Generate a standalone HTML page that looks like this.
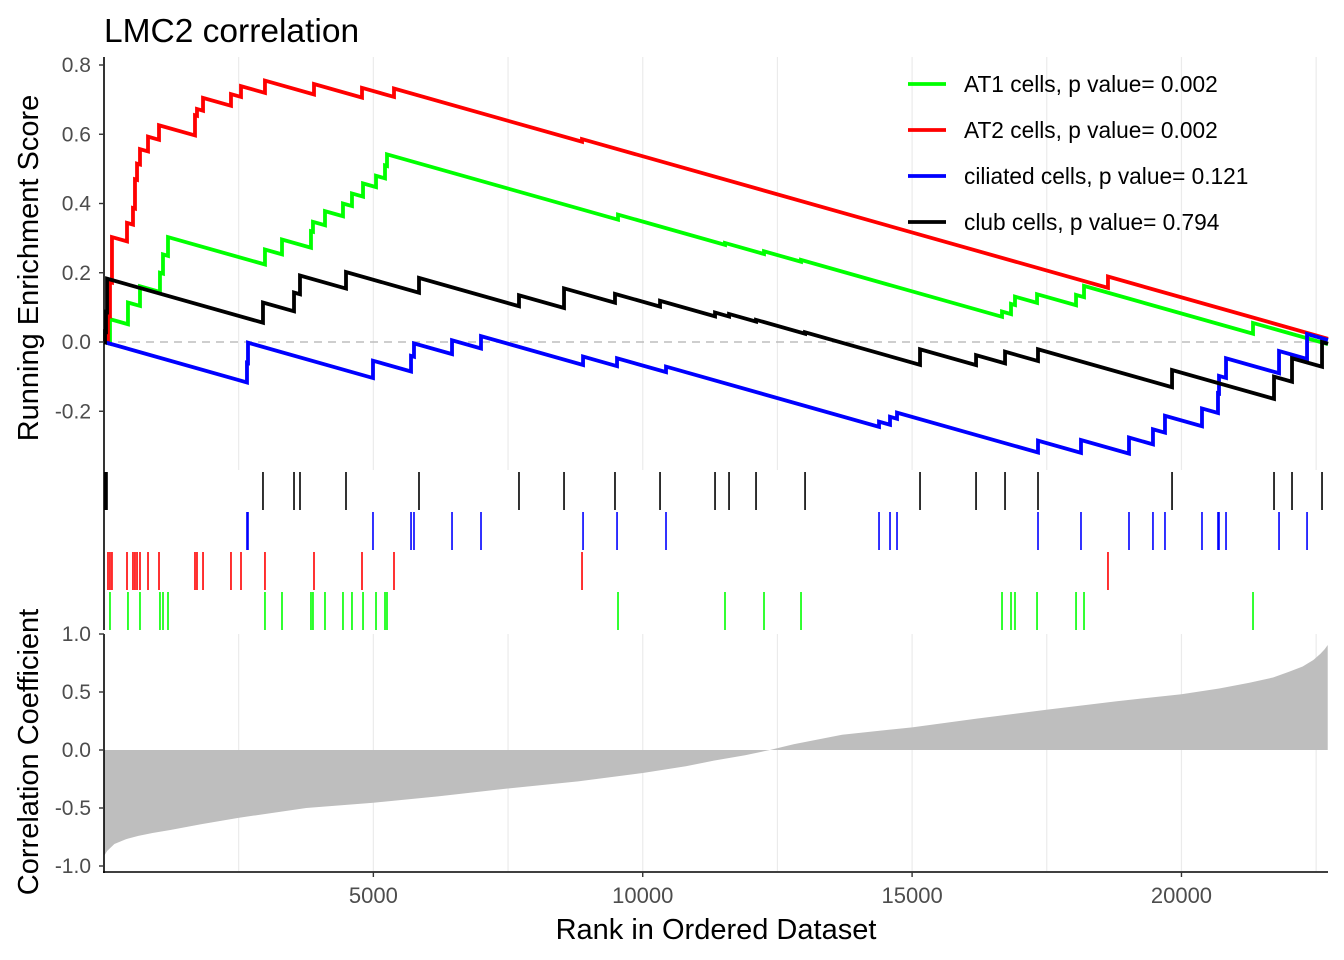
<!DOCTYPE html>
<html><head><meta charset="utf-8"><style>
html,body{margin:0;padding:0;background:#fff;}
svg{display:block;font-family:"Liberation Sans",Arial,sans-serif;}
</style></head><body>
<svg id="chart" width="1344" height="960" viewBox="0 0 1344 960" xmlns="http://www.w3.org/2000/svg">
<text x="104" y="42" font-size="33.5" fill="#000">LMC2 correlation</text>
<g id="grid"></g>
<line id="zeroline" stroke="#bdbdbd" stroke-width="1.5" stroke-dasharray="8,6"/>
<g id="curves"></g>
<g id="hits"></g>
<path id="corrArea" fill="#bebebe"/>
<g id="axes"></g>
<text transform="translate(38,268) rotate(-90)" text-anchor="middle" font-size="29" fill="#000">Running Enrichment Score</text>
<text transform="translate(38,752) rotate(-90)" text-anchor="middle" font-size="29" fill="#000">Correlation Coefficient</text>
<text x="716" y="939" text-anchor="middle" font-size="29" fill="#000">Rank in Ordered Dataset</text>
<g id="legend"></g>
</svg>
<script>
const N = 22720;
const setNames = ["AT1 cells, p value= 0.002","AT2 cells, p value= 0.002","ciliated cells, p value= 0.121","club cells, p value= 0.794"];
const setColors = ["#00ff00","#ff0000","#0000ff","#000000"];
const greenHits = [111,445,668,1039,1095,1188,2988,3304,3842,3879,4102,4436,4603,4808,5049,5216,5253,9541,11527,12251,12938,16669,16836,16910,17319,18043,18191,21328];
const greenPeaks = [0.066,0.114,0.161,0.2,0.253,0.303,0.267,0.296,0.32,0.347,0.378,0.40,0.429,0.458,0.48,0.51,0.542,0.368,0.286,0.262,0.237,0.088,0.110,0.131,0.138,0.136,0.162,0.055];
const redHits = [74,111,148,427,538,575,613,668,817,1021,1689,1726,1838,2357,2543,2988,3898,4789,5383,8873,18636];
const redPeaks = [0.076,0.173,0.303,0.344,0.387,0.47,0.515,0.557,0.593,0.626,0.655,0.673,0.705,0.716,0.739,0.755,0.745,0.734,0.732,0.586,0.189];
const blueHits = [2654,2673,4993,5699,5754,6460,6998,8892,9523,10432,14386,14590,14720,17337,18135,19026,19471,19694,20381,20678,20697,20827,21811,22331];
const bluePeaks = [-0.06,-0.002,-0.054,-0.04,-0.004,0.005,0.017,-0.042,-0.047,-0.071,-0.23,-0.216,-0.204,-0.285,-0.283,-0.276,-0.252,-0.213,-0.192,-0.148,-0.098,-0.047,-0.026,0.023];
const blackHits = [19,37,56,2951,3527,3638,4492,5847,7703,8539,9485,10321,11342,11602,12103,13013,15147,16187,16725,17337,19825,21718,22052,22609];
const blackPeaks = [0.03,0.087,0.183,0.114,0.143,0.192,0.202,0.185,0.135,0.155,0.139,0.119,0.085,0.081,0.064,0.028,-0.021,-0.038,-0.028,-0.021,-0.081,-0.1,-0.047,0.0];
const decayPerRank = 0.000044;
const corrRanks = [0,60,193,400,638,900,1231,1800,2493,3754,5000,6200,7493,8800,10000,10800,11320,11900,12360,12800,13700,15000,16200,17493,18800,20000,20700,21261,21700,22003,22250,22448,22580,22660,22715];
const corrValues = [-0.914,-0.87,-0.81,-0.77,-0.74,-0.715,-0.69,-0.64,-0.585,-0.5,-0.455,-0.4,-0.332,-0.27,-0.198,-0.14,-0.092,-0.045,0,0.05,0.132,0.195,0.27,0.347,0.42,0.481,0.53,0.58,0.625,0.676,0.72,0.776,0.83,0.87,0.905];
const xTicks = [5000,10000,15000,20000];
const yTicksTop = [0.8,0.6,0.4,0.2,0.0,-0.2];
const yTicksBottom = [1.0,0.5,0.0,-0.5,-1.0];

const NS = "http://www.w3.org/2000/svg";
const X0 = 104, X1 = 1328;
function xs(r){ return X0 + r*(X1-X0)/N; }
function ysTop(v){ return 342 - v*346.25; }
function ysBot(v){ return 750 - v*116; }
function mk(tag, attrs, parent){ const e=document.createElementNS(NS,tag); for(const k in attrs) e.setAttribute(k,attrs[k]); parent.appendChild(e); return e; }

const grid = document.getElementById('grid');
for(let r=2500;r<N;r+=2500){
  const l1 = mk('line',{x1:xs(r),x2:xs(r),y1:57,y2:470,stroke:'#ebebeb','stroke-width':1.2},grid);
  
  
  const l2 = mk('line',{x1:xs(r),x2:xs(r),y1:634,y2:871,stroke:'#ebebeb','stroke-width':1.2},grid);
  
  
}
const zl = document.getElementById('zeroline');
zl.setAttribute('x1',X0); zl.setAttribute('x2',X1); zl.setAttribute('y1',ysTop(0)); zl.setAttribute('y2',ysTop(0));

const hitSets = [greenHits, redHits, blueHits, blackHits];
const peakSets = [greenPeaks, redPeaks, bluePeaks, blackPeaks];
const curves = document.getElementById('curves');
for(let s=0;s<4;s++){
  let prevR=0, prevV=0, d='M'+xs(0)+','+ysTop(0);
  const H=hitSets[s], P=peakSets[s];
  for(let i=0;i<H.length;i++){
    const before = prevV - decayPerRank*(H[i]-prevR);
    d += ' L'+xs(H[i]).toFixed(2)+','+ysTop(before).toFixed(2)+' L'+xs(H[i]).toFixed(2)+','+ysTop(P[i]).toFixed(2);
    prevR=H[i]; prevV=P[i];
  }
  d += ' L'+xs(N)+','+ysTop(prevV - decayPerRank*(N-prevR)).toFixed(2);
  const p = mk('path',{d:d,fill:'none',stroke:setColors[s],'stroke-width':3.8,'stroke-linejoin':'miter'},curves);
  
  
}

const rowTop = {3:472, 2:512, 1:552, 0:592};
const hitsG = document.getElementById('hits');
for(let s=0;s<4;s++){
  for(const r of hitSets[s]){
    const t = mk('line',{x1:xs(r),x2:xs(r),y1:rowTop[s],y2:rowTop[s]+38,stroke:setColors[s],'stroke-width':1.6},hitsG);
    
    
  }
}

let cd = 'M'+xs(corrRanks[0])+','+ysBot(0);
for(let i=0;i<corrRanks.length;i++) cd += ' L'+xs(corrRanks[i]).toFixed(2)+','+ysBot(corrValues[i]).toFixed(2);
cd += ' L'+xs(corrRanks[corrRanks.length-1])+','+ysBot(0)+' Z';
document.getElementById('corrArea').setAttribute('d',cd);

const axes = document.getElementById('axes');
mk('line',{x1:X0,x2:X0,y1:57,y2:630,stroke:'#000','stroke-width':1.6},axes);
mk('line',{x1:X0,x2:X0,y1:634,y2:873,stroke:'#000','stroke-width':1.6},axes);
mk('line',{x1:X0-1,x2:X1,y1:872,y2:872,stroke:'#000','stroke-width':1.6},axes);
for(const v of yTicksTop){
  mk('line',{x1:X0-5,x2:X0,y1:ysTop(v),y2:ysTop(v),stroke:'#333','stroke-width':1.4},axes);
  const t = mk('text',{x:X0-13,y:ysTop(v)+7,'text-anchor':'end','font-size':21,fill:'#4d4d4d'},axes);
  t.textContent = v.toFixed(1);
  
  
}
for(const v of yTicksBottom){
  mk('line',{x1:X0-5,x2:X0,y1:ysBot(v),y2:ysBot(v),stroke:'#333','stroke-width':1.4},axes);
  const t = mk('text',{x:X0-13,y:ysBot(v)+7,'text-anchor':'end','font-size':21,fill:'#4d4d4d'},axes);
  t.textContent = v.toFixed(1);
  
  
}
for(const r of xTicks){
  mk('line',{x1:xs(r),x2:xs(r),y1:872,y2:877,stroke:'#333','stroke-width':1.4},axes);
  const t = mk('text',{x:xs(r),y:903,'text-anchor':'middle','font-size':22,fill:'#4d4d4d'},axes);
  t.textContent = String(r);
  
  
}

const lg = document.getElementById('legend');
for(let s=0;s<4;s++){
  const y = 84 + s*46;
  const l = mk('line',{x1:908,x2:946,y1:y,y2:y,stroke:setColors[s],'stroke-width':3.8},lg);
  
  
  const t = mk('text',{x:964,y:y+8,'font-size':22.7,fill:'#000'},lg);
  t.textContent = setNames[s];
  
  
}
</script>
</body></html>
